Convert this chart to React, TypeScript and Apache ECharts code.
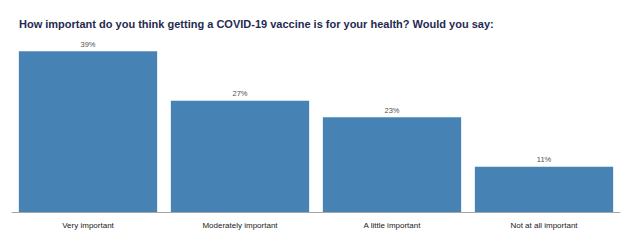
import React, { useEffect, useRef } from "react";
import * as echarts from "echarts";

const categories = ["Very important", "Moderately important", "A little important", "Not at all important"];
const values = [39, 27, 23, 11];
const titleText = "How important do you think getting a COVID-19 vaccine is for your health? Would you say:";

export default function App() {
  const ref = useRef<HTMLDivElement>(null);
  useEffect(() => {
    const chart = echarts.init(ref.current!, null, { renderer: "svg" });
    chart.setOption({
      animation: false,
      backgroundColor: "#ffffff",
      title: {
        text: titleText,
        left: 14,
        top: 13,
        textStyle: {
          fontFamily: "Liberation Sans, Arial, sans-serif",
          fontWeight: "bold",
          fontSize: 11,
          color: "#1f2a52",
        },
      },
      grid: { left: 12, right: 10, top: 47, bottom: 36 },
      xAxis: {
        type: "category",
        data: categories,
        axisLine: { lineStyle: { color: "#a6a6a6", width: 1 } },
        axisTick: { show: false },
        axisLabel: { color: "#222", fontSize: 8, fontFamily: "Liberation Sans, Arial, sans-serif", margin: 9 },
      },
      yAxis: { type: "value", min: 0, max: 40, show: false, splitLine: { show: false } },
      series: [
        {
          type: "bar",
          data: values,
          barCategoryGap: "9%",
          itemStyle: { color: "#4682b4" },
          label: {
            show: true,
            position: "top",
            formatter: "{c}%",
            fontSize: 7.5,
            color: "#505050",
            fontFamily: "Liberation Sans, Arial, sans-serif",
            distance: 3,
          },
        },
      ],
    });
    return () => chart.dispose();
  }, []);
  return <div ref={ref} style={{ width: 630, height: 248, position: "absolute", left: 0, top: 0 }} />;
}
